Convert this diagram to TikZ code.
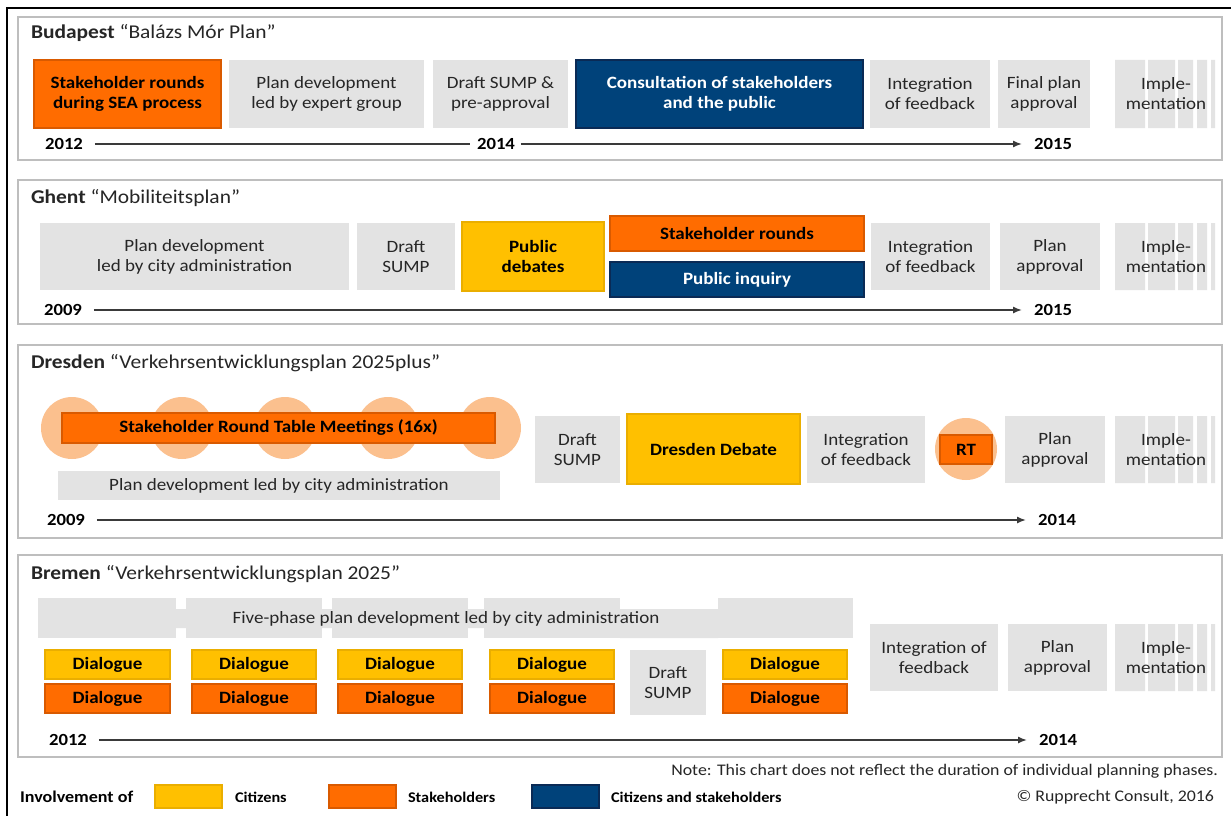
\documentclass[tikz,border=0pt]{standalone}
\usepackage{fontspec}
\setmainfont{Carlito}[FakeStretch=1.1]
\usetikzlibrary{arrows.meta,backgrounds}
\definecolor{orF}{HTML}{FF6C00}
\definecolor{orD}{HTML}{D95A00}
\definecolor{yeF}{HTML}{FFC000}
\definecolor{yeD}{HTML}{EAAE00}
\definecolor{naF}{HTML}{00427A}
\definecolor{naD}{HTML}{0A2A55}
\definecolor{grF}{HTML}{E3E3E3}
\definecolor{ltO}{HTML}{FBC08E}
\definecolor{pnl}{HTML}{BEBEBE}
\definecolor{txt}{HTML}{262626}
\definecolor{tlc}{HTML}{3A3A3A}
\newcommand\bx[7]{\node[#6, minimum width={#4-#2}, minimum height={#5-#3}] (#1) at ({(#2+#4)/2},{(#3+#5)/2}) {#7};}
\newcommand\implstrips[3]{%
  \fill[grF] (1115,#1) rectangle (1145,#2) (1148,#1) rectangle (1175,#2) (1178,#1) rectangle (1193,#2) (1197,#1) rectangle (1207,#2) (1211,#1) rectangle (1215,#2);
  \node[bt] (#3) at (1166,{(#1+#2)/2}) {Imple-\\mentation};}
\begin{document}
\begin{tikzpicture}[x=1pt,y=-1pt,
  every node/.style={inner sep=0pt, outer sep=0pt, text=txt},
  bt/.style={font=\fontsize{17.3}{20}\selectfont, align=center},
  bbt/.style={font=\fontsize{17.3}{20}\selectfont\bfseries, align=center, text=black},
  gbox/.style={bt, fill=grF},
  obox/.style={bbt, fill=orF, draw=orD, line width=1.5pt},
  ybox/.style={bbt, fill=yeF, draw=yeD, line width=1.5pt},
  nbox/.style={bbt, fill=naF, draw=naD, line width=1.5pt, text=white},
  panel/.style={draw=pnl, line width=1.5pt, fill=white},
  ttl/.style={anchor=west, font=\fontsize{19.5}{22}\selectfont},
  yr/.style={font=\fontsize{17}{20}\selectfont\bfseries, text=black},
  tline/.style={draw=tlc, line width=1.6pt, shorten <=12pt, shorten >=12pt},
  tarrow/.style={tline, -{Latex[length=9pt,width=7pt]}},
  ring/.style={circle, fill=ltO, minimum size=62pt},
  vline/.style={draw=grF!80!black!60, line width=1pt},
  leg/.style={font=\fontsize{14.8}{17}\selectfont\bfseries, text=black, anchor=west},
  note/.style={font=\fontsize{16.2}{19}\selectfont, anchor=east}
]
\useasboundingbox (0,0) rectangle (1231,816);
\fill[white] (0,0) rectangle (1231,816);
% outer frame
\draw[black, line width=2.5pt] (7,816) -- (7,8) -- (1231,8);

% ================= Budapest
\bx{p1}{18}{17}{1222}{160}{panel}{}
\node[ttl] (t1) at (31,33) {\textbf{Budapest} “Balázs Mór Plan”};
\bx{bsr}{34}{60}{221}{128}{obox}{Stakeholder rounds\\during SEA process}
\bx{bpd}{229}{60}{424}{128}{gbox}{Plan development\\led by expert group}
\bx{bds}{433}{60}{568}{128}{gbox}{Draft SUMP \&\\pre-approval}
\bx{bcs}{576}{60}{863}{128}{nbox}{Consultation of stakeholders\\and the public}
\bx{bif}{870}{60}{990}{128}{gbox}{Integration\\of feedback}
\bx{bfp}{998}{60}{1090}{128}{gbox}{Final plan\\approval}
\implstrips{60}{128}{bim}
\node[yr] (b12) at (64,144) {2012};
\node[yr] (b14) at (496,144) {2014};
\node[yr] (b15) at (1053,144) {2015};
\draw[tline, shorten >=7pt] (b12) -- (b14);
\draw[tarrow, shorten <=6pt] (b14) -- (b15);

% ================= Ghent
\bx{p2}{18}{180}{1222}{324}{panel}{}
\node[ttl] (t2) at (31,198) {\textbf{Ghent} “Mobiliteitsplan”};
\bx{gpd}{40}{223}{349}{290}{gbox}{Plan development\\led by city administration}
\bx{gds}{357}{223}{455}{290}{gbox}{Draft\\SUMP}
\bx{gpb}{462}{222}{604}{291}{ybox}{Public\\debates}
\bx{gsr}{610}{216}{864}{251}{obox}{Stakeholder rounds}
\bx{gpi}{610}{262}{864}{297}{nbox}{Public inquiry}
\bx{gif}{871}{223}{990}{290}{gbox}{Integration\\of feedback}
\bx{gpa}{1000}{223}{1100}{290}{gbox}{Plan\\approval}
\implstrips{223}{290}{gim}
\node[yr] (g09) at (63,310) {2009};
\node[yr] (g15) at (1053,310) {2015};
\draw[tarrow] (g09) -- (g15);

% ================= Dresden
\bx{p3}{18}{345}{1222}{538}{panel}{}
\node[ttl] (t3) at (31,363) {\textbf{Dresden} “Verkehrsentwicklungsplan 2025plus”};
\node[ring] (c1) at (72,428) {};
\node[ring] (c2) at (182,428) {};
\node[ring] (c3) at (285,428) {};
\node[ring] (c4) at (388,428) {};
\node[ring] (c5) at (490,428) {};
\bx{dsr}{62}{413}{495}{443}{obox}{Stakeholder Round Table Meetings (16x)}
\bx{dpd}{58}{471}{500}{500}{gbox}{Plan development led by city administration}
\bx{dds}{535}{416}{620}{483}{gbox}{Draft\\SUMP}
\bx{ddd}{627}{414}{800}{484}{ybox}{Dresden Debate}
\bx{dif}{807}{416}{925}{483}{gbox}{Integration\\of feedback}
\node[ring] (crt) at (966,449) {};
\bx{drt}{940}{435}{992}{464}{obox}{RT}
\bx{dpa}{1005}{416}{1105}{483}{gbox}{Plan\\approval}
\implstrips{416}{483}{dim}
\node[yr] (d09) at (66,520) {2009};
\node[yr] (d14) at (1057,520) {2014};
\draw[tarrow] (d09) -- (d14);

% ================= Bremen
\bx{p4}{18}{555}{1222}{757}{panel}{}
\node[ttl] (t4) at (31,574) {\textbf{Bremen} “Verkehrsentwicklungsplan 2025”};
\fill[grF] (176,609) rectangle (186,628) (322,609) rectangle (332,628) (468,609) rectangle (484,628) (620,609) rectangle (718,638);
\bx{s1}{38}{598}{176}{638}{gbox}{}
\bx{s2}{186}{598}{322}{638}{gbox}{}
\bx{s3}{332}{598}{468}{638}{gbox}{}
\bx{s4}{484}{598}{620}{638}{gbox}{}
\bx{s5}{718}{598}{853}{638}{gbox}{}
\node[bt] (band) at (446,619) {Five-phase plan development led by city administration};
\bx{y1}{45}{650}{170}{679}{ybox}{Dialogue}
\bx{y2}{192}{650}{316}{679}{ybox}{Dialogue}
\bx{y3}{338}{650}{462}{679}{ybox}{Dialogue}
\bx{y4}{490}{650}{614}{679}{ybox}{Dialogue}
\bx{y5}{723}{650}{847}{679}{ybox}{Dialogue}
\bx{o1}{45}{684}{170}{713}{obox}{Dialogue}
\bx{o2}{192}{684}{316}{713}{obox}{Dialogue}
\bx{o3}{338}{684}{462}{713}{obox}{Dialogue}
\bx{o4}{490}{684}{614}{713}{obox}{Dialogue}
\bx{o5}{723}{684}{847}{713}{obox}{Dialogue}
\begin{scope}[on background layer]
\foreach \i in {1,...,5}{\draw[vline] (y\i.center |- s1.south) -- (o\i.center);}
\end{scope}
\bx{eds}{630}{650}{706}{715}{gbox}{Draft\\SUMP}
\bx{eif}{870}{624}{998}{691}{gbox}{Integration of\\feedback}
\bx{epa}{1008}{624}{1107}{691}{gbox}{Plan\\approval}
\implstrips{624}{691}{eim}
\node[yr] (e12) at (68,740) {2012};
\node[yr] (e14) at (1058,740) {2014};
\draw[tarrow] (e12) -- (e14);

% ================= Legend
\node[note] (nt) at (1218,771) {Note: This chart does not reflect the duration of individual planning phases.};
\node[note] (cp) at (1214,797) {© Rupprecht Consult, 2016};
\node[anchor=west, font=\fontsize{16.4}{19}\selectfont\bfseries, text=black] (inv) at (20,797) {Involvement of};
\bx{ly}{155}{785}{222}{808}{ybox}{}
\node[leg] (lyt) at (235,797) {Citizens};
\bx{lo}{329}{785}{396}{808}{obox}{}
\node[leg] (lot) at (408,797) {Stakeholders};
\bx{ln}{532}{785}{599}{808}{nbox}{}
\node[leg] (lnt) at (611,797) {Citizens and stakeholders};
\end{tikzpicture}
\end{document}
